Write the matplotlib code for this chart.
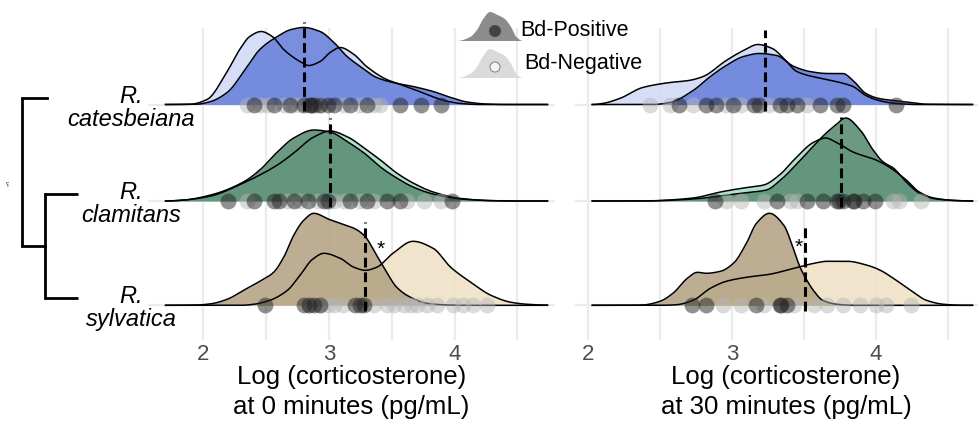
import numpy as np
import matplotlib
matplotlib.use("Agg")
import matplotlib.pyplot as plt
from matplotlib.transforms import blended_transform_factory
from matplotlib.patches import Polygon, Circle

# ---------------- data ----------------
species = ["R.\ncatesbeiana", "R.\nclamitans", "R.\nsylvatica"]
status = ["Bd-Positive", "Bd-Negative"]
xlabels = ["Log (corticosterone)\nat 0 minutes (pg/mL)",
           "Log (corticosterone)\nat 30 minutes (pg/mL)"]
xticks = [2, 3, 4]

# ridge density heights (percent of row spacing)
# ----- 0 minutes -----
t0_cat_pos_x = [1.70, 1.95, 2.06, 2.19, 2.35, 2.45, 2.59, 2.70, 2.80, 2.93, 3.04, 3.145, 3.25, 3.38, 3.51, 3.67, 3.83, 3.97, 4.10, 4.25, 4.40, 4.74]
t0_cat_pos_h = [0, 0.3, 3, 12, 38, 55, 68, 75, 77, 73, 62, 48, 38, 27, 22, 18, 13, 7, 2.5, 0.5, 0, 0]
t0_cat_neg_x = [1.70, 1.90, 2.03, 2.19, 2.29, 2.37, 2.46, 2.55, 2.64, 2.77, 2.84, 2.93, 3.01, 3.09, 3.20, 3.30, 3.46, 3.57, 3.70, 3.82, 3.95, 4.05, 4.20, 4.74]
t0_cat_neg_h = [0, 0.3, 5, 33, 55, 68, 73, 68, 55, 43, 39, 43, 52, 57, 50, 38, 25, 20, 14, 8, 3, 1, 0, 0]

t0_cla_pos_x = [1.70, 1.85, 2.06, 2.32, 2.45, 2.59, 2.72, 2.88, 3.01, 3.15, 3.28, 3.41, 3.54, 3.67, 3.83, 4.05, 4.31, 4.50, 4.74]
t0_cla_pos_h = [0, 1, 6, 19, 31, 49, 63, 71, 69, 59, 48, 34, 23, 14, 7, 2, 0.3, 0, 0]
t0_cla_neg_x = [1.70, 1.85, 2.06, 2.32, 2.45, 2.59, 2.72, 2.88, 3.01, 3.15, 3.28, 3.41, 3.54, 3.67, 3.83, 4.05, 4.31, 4.50, 4.74]
t0_cla_neg_h = [0, 1, 5, 18, 26, 36, 48, 64, 70, 64, 53, 41, 28, 18, 9, 2.5, 0.3, 0, 0]

t0_syl_pos_x = [1.70, 1.95, 2.06, 2.19, 2.32, 2.45, 2.56, 2.64, 2.72, 2.80, 2.88, 3.00, 3.09, 3.20, 3.28, 3.38, 3.46, 3.54, 3.65, 3.78, 3.95, 4.10, 4.74]
t0_syl_pos_h = [0, 0.3, 1.5, 6, 15, 24, 33, 48, 70, 85, 92, 86, 82, 77, 70, 50, 33, 18, 8, 2, 0.3, 0, 0]
t0_syl_neg_x = [1.70, 2.30, 2.40, 2.53, 2.67, 2.77, 2.87, 2.96, 3.09, 3.20, 3.29, 3.38, 3.51, 3.67, 3.83, 3.97, 4.13, 4.29, 4.45, 4.58, 4.74]
t0_syl_neg_h = [0, 0, 1, 5, 15, 30, 46, 52, 47, 38, 35, 38, 52, 64, 57, 38, 23, 10, 3, 1, 0.2]

# ----- 30 minutes -----
t30_cat_pos_x = [2.03, 2.45, 2.57, 2.73, 2.85, 2.96, 3.08, 3.19, 3.31, 3.43, 3.54, 3.66, 3.77, 3.84, 3.93, 4.02, 4.12, 4.24, 4.35, 4.67]
t30_cat_pos_h = [0, 0, 2, 14, 28, 39, 48, 51, 49, 38, 33, 31, 31, 24, 11, 6, 4, 2, 0.3, 0]
t30_cat_neg_x = [2.03, 2.10, 2.22, 2.38, 2.57, 2.70, 2.80, 2.96, 3.08, 3.18, 3.28, 3.36, 3.45, 3.62, 3.75, 3.84, 3.93, 4.02, 4.14, 4.30, 4.67]
t30_cat_neg_h = [0, 1, 6, 17, 22, 24, 28, 44, 54, 60, 56, 46, 33, 26, 22, 18, 9, 4, 1, 0, 0]

t30_cla_pos_x = [2.03, 2.40, 2.50, 2.73, 2.92, 3.08, 3.24, 3.33, 3.43, 3.54, 3.64, 3.72, 3.79, 3.89, 3.98, 4.05, 4.12, 4.21, 4.30, 4.42, 4.58, 4.67]
t30_cla_pos_h = [0, 0, 0.3, 2, 5, 8, 11, 20, 34, 51, 66, 76, 83, 71, 51, 39, 33, 19, 8, 2, 0.3, 0]
t30_cla_neg_x = [2.03, 2.40, 2.50, 2.73, 2.92, 3.08, 3.22, 3.33, 3.43, 3.57, 3.65, 3.72, 3.84, 4.00, 4.09, 4.21, 4.30, 4.40, 4.55, 4.67]
t30_cla_neg_h = [0, 0, 0.5, 3, 9, 13, 16, 26, 41, 59, 63, 59, 49, 41, 34, 21, 9, 3, 0.5, 0]

t30_syl_pos_x = [2.03, 2.30, 2.38, 2.50, 2.59, 2.69, 2.76, 2.82, 2.92, 3.01, 3.10, 3.17, 3.26, 3.36, 3.43, 3.47, 3.52, 3.57, 3.63, 3.73, 3.85, 4.67]
t30_syl_pos_h = [0, 0, 0.3, 4, 12, 27, 33, 32, 34, 42, 62, 82, 92, 80, 55, 39, 25, 14, 5, 1, 0, 0]
t30_syl_neg_x = [2.03, 2.50, 2.61, 2.73, 2.85, 2.96, 3.10, 3.26, 3.43, 3.57, 3.66, 3.80, 3.94, 4.03, 4.12, 4.24, 4.35, 4.47, 4.60, 4.67]
t30_syl_neg_h = [0, 0, 0.5, 5, 17, 24, 28, 31, 37, 42, 44, 44, 40, 35, 27, 15, 5, 1, 0, 0]

# observations (points along the baseline)
t0_cat_pos_pts = [2.40, 2.56, 2.69, 2.80, 2.85, 2.86, 2.88, 2.93, 2.99, 3.04, 3.17, 3.30, 3.57, 3.73, 3.89]
t0_cat_neg_pts = [2.35, 2.45, 2.51, 2.64, 2.72, 2.78, 2.93, 3.12, 3.25, 3.36, 3.41]
t0_cla_pos_pts = [2.20, 2.40, 2.56, 2.60, 2.72, 2.83, 2.96, 2.99, 3.17, 3.30, 3.46, 3.57, 3.98]
t0_cla_neg_pts = [2.35, 2.67, 2.77, 2.91, 3.04, 3.12, 3.25, 3.36, 3.62, 3.76, 3.89]
t0_syl_pos_pts = [2.49, 2.80, 2.84, 2.88, 2.93, 3.21, 3.25, 3.28]
t0_syl_neg_pts = [2.84, 2.93, 2.99, 3.04, 3.11, 3.36, 3.46, 3.52, 3.60, 3.65, 3.70, 3.78, 3.86, 3.99, 4.07, 4.15, 4.26]

t30_cat_pos_pts = [2.63, 2.82, 2.89, 3.01, 3.15, 3.19, 3.33, 3.38, 3.45, 3.61, 3.73, 3.77, 4.14]
t30_cat_neg_pts = [2.43, 2.57, 2.73, 2.96, 3.06, 3.26, 3.52]
t30_cla_pos_pts = [2.88, 3.31, 3.52, 3.63, 3.73, 3.74, 3.77, 3.84, 3.85, 3.91, 3.99]
t30_cla_neg_pts = [2.96, 3.06, 3.22, 3.40, 3.45, 4.12, 4.16, 4.31]
t30_syl_pos_pts = [2.72, 2.82, 3.17, 3.33, 3.34, 3.38]
t30_syl_neg_pts = [2.94, 3.06, 3.22, 3.43, 3.57, 3.66, 3.77, 3.89, 4.00, 4.07, 4.24]

# group means (dashed lines) and their drawn heights
t0_means = [2.80, 3.01, 3.29]
t30_means = [3.23, 3.76, 3.51]
t0_mean_tops = [83, 83, 83]
t30_mean_tops = [75, 84, 78]

# significance marks: (row index, x, height)
t0_star = (2, 3.41, 56)
t30_star = (2, 3.46, 58)

# ---------------- style ----------------
pos_colors = ["#6a82dc", "#5b8e74", "#b6a587"]
neg_colors = ["#d2dbf7", "#a9dcc7", "#f0e2c7"]
row_y = [2.008, 1.043, 0.0]
FIG_W, FIG_H = 979, 423

def pchip(x, y, xs):
    x = np.asarray(x, float); y = np.asarray(y, float)
    h = np.diff(x); d = np.diff(y) / h
    m = np.zeros_like(y)
    for k in range(1, len(x) - 1):
        if d[k - 1] * d[k] > 0:
            w1 = 2 * h[k] + h[k - 1]; w2 = h[k] + 2 * h[k - 1]
            m[k] = (w1 + w2) / (w1 / d[k - 1] + w2 / d[k])
    idx = np.clip(np.searchsorted(x, xs) - 1, 0, len(x) - 2)
    t = (xs - x[idx]) / h[idx]
    h00 = 2 * t**3 - 3 * t**2 + 1; h10 = t**3 - 2 * t**2 + t
    h01 = -2 * t**3 + 3 * t**2; h11 = t**3 - t**2
    return np.maximum(h00 * y[idx] + h10 * h[idx] * m[idx] + h01 * y[idx + 1] + h11 * h[idx] * m[idx + 1], 0)

fig = plt.figure(figsize=(FIG_W / 100, FIG_H / 100), dpi=100)
sans = ["Liberation Sans", "DejaVu Sans"]

def px_axes(l, t, r, b):
    return [l / FIG_W, 1 - b / FIG_H, (r - l) / FIG_W, (b - t) / FIG_H]

ax0 = fig.add_axes(px_axes(148, 28, 555, 340))
ax1 = fig.add_axes(px_axes(575, 28, 997, 340))

panels = [
    (ax0, (1.56, 4.80),
     [(t0_cat_pos_x, t0_cat_pos_h, t0_cat_neg_x, t0_cat_neg_h, t0_cat_pos_pts, t0_cat_neg_pts),
      (t0_cla_pos_x, t0_cla_pos_h, t0_cla_neg_x, t0_cla_neg_h, t0_cla_pos_pts, t0_cla_neg_pts),
      (t0_syl_pos_x, t0_syl_pos_h, t0_syl_neg_x, t0_syl_neg_h, t0_syl_pos_pts, t0_syl_neg_pts)],
     t0_means, t0_mean_tops, t0_star, xlabels[0]),
    (ax1, (1.91, 4.84),
     [(t30_cat_pos_x, t30_cat_pos_h, t30_cat_neg_x, t30_cat_neg_h, t30_cat_pos_pts, t30_cat_neg_pts),
      (t30_cla_pos_x, t30_cla_pos_h, t30_cla_neg_x, t30_cla_neg_h, t30_cla_pos_pts, t30_cla_neg_pts),
      (t30_syl_pos_x, t30_syl_pos_h, t30_syl_neg_x, t30_syl_neg_h, t30_syl_pos_pts, t30_syl_neg_pts)],
     t30_means, t30_mean_tops, t30_star, xlabels[1]),
]

for ax, xl, rows, means, tops, star, xlab in panels:
    ax.set_xlim(*xl)
    ax.set_ylim(-0.347, 2.773)
    for s in ax.spines.values():
        s.set_visible(False)
    ax.set_xticks(xticks)
    ax.set_xticks([2.5, 3.5, 4.5], minor=True)
    ax.set_yticks(row_y)
    ax.set_yticklabels([])
    ax.tick_params(axis="both", which="both", length=0)
    ax.tick_params(axis="x", pad=3, labelsize=16, labelcolor="#4d4d4d")
    for lab in ax.get_xticklabels():
        lab.set_family(sans)
    ax.grid(True, which="both", color="#ebebeb", lw=1.6, zorder=0)
    ax.set_axisbelow(True)
    ax.set_xlabel(xlab, fontsize=18.5, family=sans, labelpad=0, linespacing=1.3)

    for i, (px_, ph, nx, nh, ppts, npts) in enumerate(rows):
        base = row_y[i]
        zb = 10 + i * 10
        xs_n = np.linspace(nx[0], nx[-1], 600)
        ys_n = base + pchip(nx, nh, xs_n) / 100
        xs_p = np.linspace(px_[0], px_[-1], 600)
        ys_p = base + pchip(px_, ph, xs_p) / 100
        ax.fill_between(xs_n, base, ys_n, color=neg_colors[i], alpha=0.9, lw=0, zorder=zb, clip_on=False)
        ax.fill_between(xs_p, base, ys_p, color=pos_colors[i], alpha=0.9, lw=0, zorder=zb + 1, clip_on=False)
        ax.plot(xs_n, ys_n, color="black", lw=1.1, zorder=zb + 2, clip_on=False)
        ax.plot(xs_p, ys_p, color="black", lw=1.1, zorder=zb + 2, clip_on=False)
        ax.scatter(npts, [base] * len(npts), s=130, color="#b5b5b5", alpha=0.48, lw=0, zorder=zb + 3)
        ax.scatter(ppts, [base] * len(ppts), s=130, color="#222222", alpha=0.5, lw=0, zorder=zb + 4)
        ax.plot([means[i], means[i]], [base - 0.06, base + tops[i] / 100], color="black", lw=2.2,
                dashes=(3.2, 1.6), zorder=zb + 5, clip_on=False)
    ri, sx, sh = star
    ax.text(sx, row_y[ri] + sh / 100, "*", fontsize=15, ha="center", va="center", zorder=60,
            family=sans)

# ---------------- overlay: labels, tree, legend ----------------
ov = fig.add_axes([0, 0, 1, 1], zorder=5)
ov.set_xlim(0, FIG_W); ov.set_ylim(FIG_H, 0); ov.axis("off")
tr = blended_transform_factory(ov.transData, ax0.transData)

for i, name in enumerate(species):
    ov.text(131, row_y[i] - 0.03, name, transform=tr, ha="center", va="center",
            multialignment="center", fontsize=17, style="italic",
            family=sans, linespacing=1.0)

tip = [y + 0.07 for y in row_y]
node_low = (tip[1] + tip[2]) / 2
lw_tree = 2.0
ov.plot([22, 22], [tip[0], node_low], color="black", lw=lw_tree, transform=tr, solid_capstyle="butt")
ov.plot([22, 47], [tip[0], tip[0]], color="black", lw=lw_tree, transform=tr, solid_capstyle="projecting")
ov.plot([22, 45], [node_low, node_low], color="black", lw=lw_tree, transform=tr, solid_capstyle="projecting")
ov.plot([45, 45], [tip[1], tip[2]], color="black", lw=lw_tree, transform=tr, solid_capstyle="projecting")
ov.plot([45, 78], [tip[1], tip[1]], color="black", lw=lw_tree, transform=tr, solid_capstyle="butt")
ov.plot([45, 78], [tip[2], tip[2]], color="black", lw=lw_tree, transform=tr, solid_capstyle="butt")
ov.text(8, 185, "\u0295", fontsize=5, ha="center", va="center", color="#333333")

# legend
key_rel_x = [0.0, 0.2, 0.3, 0.4, 0.5, 0.62, 0.72, 0.82, 0.9, 1.0]
key_rel_h = [0.0, 0.14, 0.37, 0.77, 1.0, 0.89, 0.77, 0.48, 0.14, 0.0]
key_fill = ["#8c8c8c", "#dadada"]
key_base = [41, 78]
key_text_y = [30, 64]
text_x = [520, 524]
for k in range(2):
    kx = np.linspace(0, 1, 200)
    kh = pchip(key_rel_x, key_rel_h, kx)
    xs = 457 + kx * 66
    ys = key_base[k] - kh * 29
    poly = np.column_stack([np.r_[xs, xs[::-1]], np.r_[ys, np.full_like(ys, key_base[k])]])
    ov.add_patch(Polygon(poly, closed=True, facecolor=key_fill[k], edgecolor="none"))
    if k == 0:
        ov.add_patch(Circle((495, 31), 6, facecolor="#444444", edgecolor="none"))
    else:
        ov.add_patch(Circle((495, 67), 5, facecolor="#f4f4f4", edgecolor="#8a8a8a", lw=0.8))
    ov.text(text_x[k], key_text_y[k], status[k], fontsize=15.5, ha="left", va="center",
            family=sans)

fig.savefig("out.png", dpi=100)
